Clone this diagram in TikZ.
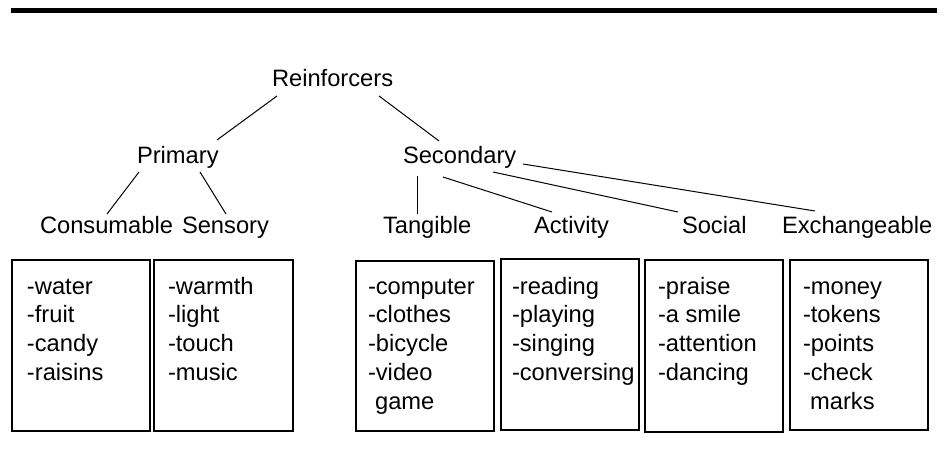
\documentclass[tikz,border=0pt]{standalone}
\usepackage{fontspec}
\setmainfont{Liberation Sans}
\begin{document}
\begin{tikzpicture}[x=1pt,y=-1pt,
  lbl/.style={anchor=base west,inner sep=0pt,outer sep=0pt,font=\fontsize{23.7}{28.8}\selectfont},
  conn/.style={draw=black,line width=1pt},
  listbox/.style={draw=black,line width=1.1pt,anchor=north west,inner sep=0pt,outer sep=0pt},
  bar/.style={fill=black,draw=none}]
\useasboundingbox (0,0) rectangle (943,452);
% top rule
\fill[bar] (11,8.3) rectangle (937,13.3);
% tree labels
\node[lbl] (R) at (272,87) {Reinforcers};
\node[lbl] (P) at (137,163) {Primary};
\node[lbl] (S) at (403,163) {Secondary};
\node[lbl] (Cn) at (40,233) {Consumable};
\node[lbl] (Sn) at (182,233) {Sensory};
\node[lbl] (Tg) at (383,233) {Tangible};
\node[lbl] (Ac) at (534,233) {Activity};
\node[lbl] (So) at (682,233) {Social};
\node[lbl] (Ex) at (782,233) {Exchangeable};
% connector end points
\coordinate (R-l) at (277,96);   \coordinate (P-t) at (217,140);
\coordinate (R-r) at (379,96);   \coordinate (S-t) at (439,141);
\coordinate (P-l) at (139,172);  \coordinate (Cn-t) at (107,214);
\coordinate (P-r) at (200,172);  \coordinate (Sn-t) at (226,214);
\coordinate (S-1) at (417,176);  \coordinate (Tg-t) at (417,214);
\coordinate (S-2) at (443,177);  \coordinate (Ac-t) at (552,212);
\coordinate (S-3) at (493,172);  \coordinate (So-t) at (678,212);
\coordinate (S-4) at (523,164);  \coordinate (Ex-t) at (815,211);
\draw[conn] (R-l) -- (P-t);
\draw[conn] (R-r) -- (S-t);
\draw[conn] (P-l) -- (Cn-t);
\draw[conn] (P-r) -- (Sn-t);
\draw[conn] (S-1) -- (Tg-t);
\draw[conn] (S-2) -- (Ac-t);
\draw[conn] (S-3) -- (So-t);
\draw[conn] (S-4) -- (Ex-t);
% boxes
\node[listbox,minimum width=138pt,minimum height=171pt] (b1) at (12,260) {};
\node[listbox,minimum width=139pt,minimum height=171pt] (b2) at (154,260) {};
\node[listbox,minimum width=138pt,minimum height=170pt] (b3) at (356,261) {};
\node[listbox,minimum width=138pt,minimum height=171pt] (b4) at (501,259) {};
\node[listbox,minimum width=138pt,minimum height=172pt] (b5) at (645,260) {};
\node[listbox,minimum width=138pt,minimum height=170pt] (b6) at (790,260) {};
% box contents
\foreach \t [count=\i] in {-water,-fruit,-candy,-raisins}
  \node[lbl] (c1-\i) at (27,{294+28.8*(\i-1)}) {\t};
\foreach \t [count=\i] in {-warmth,-light,-touch,-music}
  \node[lbl] (c2-\i) at (168,{294+28.8*(\i-1)}) {\t};
\foreach \t [count=\i] in {-computer,-clothes,-bicycle,-video,\hspace*{0.3em}game}
  \node[lbl] (c3-\i) at (368,{294+28.8*(\i-1)}) {\t};
\foreach \t [count=\i] in {-reading,-playing,-singing,-conversing}
  \node[lbl] (c4-\i) at (512,{294+28.8*(\i-1)}) {\t};
\foreach \t [count=\i] in {-praise,-a smile,-attention,-dancing}
  \node[lbl] (c5-\i) at (658,{294+28.8*(\i-1)}) {\t};
\foreach \t [count=\i] in {-money,-tokens,-points,-check,\hspace*{0.3em}marks}
  \node[lbl] (c6-\i) at (803,{294+28.8*(\i-1)}) {\t};
\end{tikzpicture}
\end{document}
